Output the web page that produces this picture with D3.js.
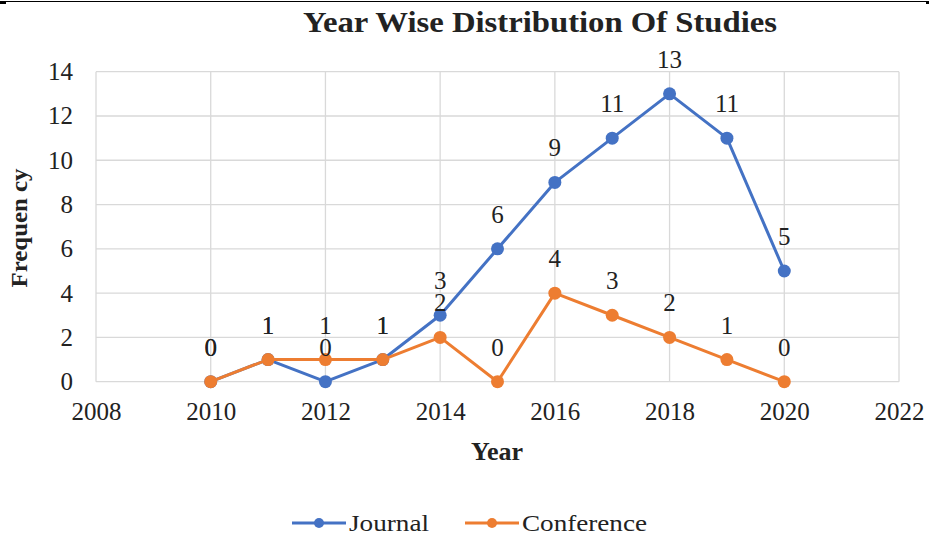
<!DOCTYPE html>
<html>
<head>
<meta charset="utf-8">
<script src="https://cdn.jsdelivr.net/npm/d3@7"></script>
<style>
  html, body { margin: 0; padding: 0; background: #fff; }
  svg { display: block; }
  text { font-family: "Liberation Serif", "Times New Roman", serif; fill: #222; }
</style>
</head>
<body>
<script>
// Publication counts per year
const years = [2010, 2011, 2012, 2013, 2014, 2015, 2016, 2017, 2018, 2019, 2020];
const journal = [0, 1, 0, 1, 3, 6, 9, 11, 13, 11, 5];
const conference = [0, 1, 1, 1, 2, 0, 4, 3, 2, 1, 0];
const xTicks = [2008, 2010, 2012, 2014, 2016, 2018, 2020, 2022];
const yTicks = [0, 2, 4, 6, 8, 10, 12, 14];
const seriesNames = ["Journal", "Conference"];
const seriesColors = ["#4472C4", "#ED7D31"];

const W = 929, H = 537;
const svg = d3.select("body").append("svg").attr("width", W).attr("height", H);

// thin rule across the top edge
svg.append("line").attr("x1", 0).attr("x2", 929).attr("y1", 1.5).attr("y2", 1.5)
  .attr("stroke", "#000").attr("stroke-width", 1.2);
svg.append("rect").attr("x", 0).attr("y", 1).attr("width", 6).attr("height", 3).attr("fill", "#000");
svg.append("rect").attr("x", 926).attr("y", 1).attr("width", 3).attr("height", 3).attr("fill", "#000");

const x = d3.scaleLinear().domain([2008, 2022]).range([96, 899]);
const y = d3.scaleLinear().domain([0, 14]).range([381.7, 71.7]);

// gridlines
const grid = svg.append("g");
grid.selectAll(".gy").data(yTicks).join("line")
  .attr("x1", x(2008)).attr("x2", x(2022))
  .attr("y1", d => y(d)).attr("y2", d => y(d))
  .attr("stroke", "#d9d9d9").attr("stroke-width", 1.3);
grid.selectAll(".gx").data(xTicks).join("line")
  .attr("x1", d => x(d)).attr("x2", d => x(d))
  .attr("y1", y(0)).attr("y2", y(14))
  .attr("stroke", "#d9d9d9").attr("stroke-width", 1.3);

// axes (labels only)
const yAxis = svg.append("g").attr("transform", `translate(${x(2008)},0)`)
  .call(d3.axisLeft(y).tickValues(yTicks).tickSize(0).tickPadding(23));
yAxis.select(".domain").remove();
yAxis.selectAll("text").style("font-family", '"Liberation Serif", serif')
  .style("font-size", "25px").attr("fill", "#222");

const xAxis = svg.append("g").attr("transform", `translate(0,${y(0)})`)
  .call(d3.axisBottom(x).tickValues(xTicks).tickFormat(d3.format("d")).tickSize(0).tickPadding(21));
xAxis.select(".domain").remove();
xAxis.selectAll("text").style("font-family", '"Liberation Serif", serif')
  .style("font-size", "25px").attr("fill", "#222");

// titles
svg.append("text").attr("x", 540).attr("y", 32).attr("text-anchor", "middle")
  .attr("textLength", 474).attr("lengthAdjust", "spacingAndGlyphs")
  .style("font-size", "30px").style("font-weight", "bold").text("Year Wise Distribution Of Studies");
svg.append("text").attr("x", 497).attr("y", 460).attr("text-anchor", "middle")
  .style("font-size", "26px").style("font-weight", "bold").text("Year");
svg.append("text").attr("transform", "translate(27,228) rotate(-90)").attr("text-anchor", "middle")
  .attr("textLength", 119).attr("lengthAdjust", "spacingAndGlyphs")
  .style("font-size", "24px").style("font-weight", "bold").text("Frequen cy");

// series
const seriesData = [journal, conference];
const line = d3.line().x(d => x(d[0])).y(d => y(d[1]));
seriesData.forEach((vals, i) => {
  const pts = years.map((yr, j) => [yr, vals[j]]);
  const g = svg.append("g");
  g.append("path").datum(pts).attr("d", line).attr("fill", "none")
    .attr("stroke", seriesColors[i]).attr("stroke-width", 3).attr("stroke-linejoin", "round");
  g.selectAll("circle").data(pts).join("circle")
    .attr("cx", d => x(d[0])).attr("cy", d => y(d[1])).attr("r", 6.5)
    .attr("fill", seriesColors[i]);
});

// value labels above each point
seriesData.forEach((vals, i) => {
  svg.append("g").selectAll("text").data(years.map((yr, j) => [yr, vals[j]])).join("text")
    .attr("x", d => x(d[0])).attr("y", d => y(d[1]) - 26)
    .attr("text-anchor", "middle").style("font-size", "25px").text(d => d[1]);
});

// legend
const legend = svg.append("g");
const legendX = [292, 465];
const legendW = [80, 125];
seriesNames.forEach((name, i) => {
  const lx = legendX[i], ly = 523;
  legend.append("line").attr("x1", lx).attr("x2", lx + 54).attr("y1", ly).attr("y2", ly)
    .attr("stroke", seriesColors[i]).attr("stroke-width", 3);
  legend.append("circle").attr("cx", lx + 27).attr("cy", ly).attr("r", 5).attr("fill", seriesColors[i]);
  legend.append("text").attr("x", lx + 57).attr("y", ly + 8)
    .attr("textLength", legendW[i]).attr("lengthAdjust", "spacingAndGlyphs")
    .style("font-size", "24px").text(name);
});
</script>
</body>
</html>
